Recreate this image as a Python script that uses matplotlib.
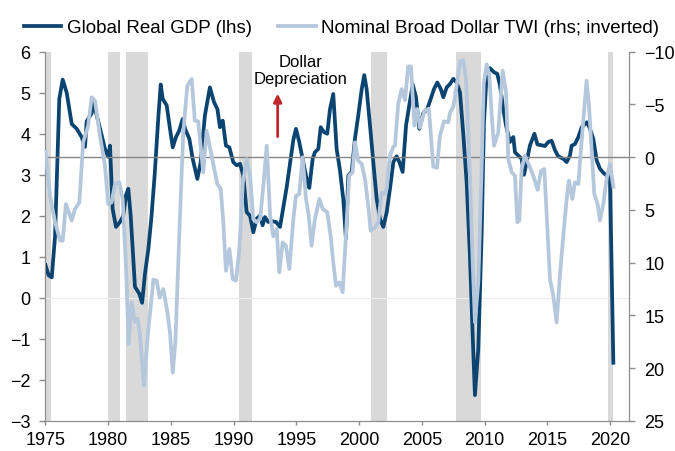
import matplotlib
matplotlib.use("Agg")
import matplotlib.pyplot as plt

plt.rcParams["font.family"] = ["Liberation Sans", "DejaVu Sans"]

# --- Global real GDP growth (lhs, %) ---
gdp_year = [1975.0, 1975.25, 1975.5, 1975.76, 1976.1, 1976.37, 1976.69, 1977.09, 1977.49, 1977.88,
            1978.15, 1978.28, 1978.68, 1978.81, 1979.08, 1979.48, 1979.74, 1980.0, 1980.14, 1980.35,
            1980.62, 1980.94, 1981.2, 1981.41, 1981.6, 1981.79, 1982.13, 1982.48, 1982.7, 1982.93,
            1983.2, 1983.45, 1983.7, 1984.0, 1984.18, 1984.34, 1984.66, 1984.92, 1985.14, 1985.4,
            1985.66, 1985.93, 1986.12, 1986.46, 1986.73, 1987.1, 1987.37, 1987.7, 1988.1, 1988.43,
            1988.7, 1988.9, 1989.12, 1989.38, 1989.65, 1989.96, 1990.24, 1990.5, 1990.76, 1991.03,
            1991.3, 1991.56, 1991.83, 1992.1, 1992.3, 1992.49, 1992.75, 1993.0, 1993.37, 1993.69,
            1993.95, 1994.22, 1994.48, 1994.75, 1994.96, 1995.22, 1995.54, 1995.81, 1996.02, 1996.29,
            1996.47, 1996.74, 1996.93, 1997.19, 1997.45, 1997.67, 1997.93, 1998.2, 1998.47, 1998.73,
            1998.94, 1999.13, 1999.4, 1999.66, 1999.92, 2000.2, 2000.4, 2000.59, 2000.86, 2001.12,
            2001.39, 2001.65, 2001.92, 2002.19, 2002.45, 2002.72, 2002.98, 2003.2, 2003.46, 2003.73,
            2003.99, 2004.26, 2004.52, 2004.79, 2005.1, 2005.42, 2005.7, 2005.96, 2006.22, 2006.5,
            2006.7, 2006.97, 2007.23, 2007.5, 2007.76, 2008.03, 2008.3, 2008.56, 2008.82, 2009.04,
            2009.22, 2009.49, 2009.76, 2009.94, 2010.15, 2010.42, 2010.74, 2011.0, 2011.22, 2011.48,
            2011.7, 2012.01, 2012.28, 2012.41, 2012.68, 2012.94, 2013.13, 2013.34, 2013.6, 2013.96,
            2014.2, 2014.54, 2014.8, 2015.07, 2015.33, 2015.6, 2015.86, 2016.26, 2016.53, 2016.79,
            2016.93, 2017.19, 2017.46, 2017.73, 2017.99, 2018.15, 2018.39, 2018.65, 2018.92, 2019.18,
            2019.45, 2019.72, 2019.98, 2020.25]
gdp_val = [0.8, 0.55, 0.5, 1.5, 4.85, 5.32, 5.0, 4.24, 4.12, 3.92,
           3.68, 4.3, 4.5, 4.75, 4.45, 3.96, 3.63, 3.44, 3.71, 2.17,
           1.73, 1.85, 2.0, 2.5, 2.66, 2.0, 0.27, 0.1, -0.12, 0.6,
           1.2, 2.0, 3.0, 4.44, 5.2, 4.85, 4.69, 4.12, 3.67, 3.92,
           4.08, 4.36, 4.12, 3.88, 3.39, 2.9, 3.31, 4.44, 5.13, 4.77,
           4.6, 4.16, 4.32, 3.71, 3.67, 3.31, 3.23, 3.27, 2.98, 2.09,
           2.0, 1.6, 1.93, 2.01, 1.77, 1.97, 1.85, 1.87, 1.85, 1.73,
           2.2, 2.7, 3.27, 3.85, 4.12, 3.8, 3.31, 2.9, 2.68, 3.39,
           3.55, 3.63, 4.16, 4.04, 4.0, 4.6, 4.97, 3.63, 3.1, 2.4,
           1.45, 2.98, 3.07, 3.88, 4.44, 5.09, 5.43, 5.09, 4.2, 3.31,
           2.42, 1.93, 1.73, 2.09, 2.66, 3.31, 3.45, 3.31, 3.07, 4.2,
           4.7, 5.2, 4.9, 4.12, 4.5, 4.6, 4.85, 5.09, 5.25, 5.09,
           4.89, 5.13, 5.21, 5.34, 5.25, 5.01, 3.96, 2.82, 1.04, -0.91,
           -2.37, -1.23, 1.61, 4.28, 5.42, 5.6, 5.5, 5.46, 5.17, 4.6,
           4.2, 3.8, 3.92, 3.55, 3.47, 3.39, 3.0, 3.31, 3.71, 4.0,
           3.74, 3.72, 3.7, 3.8, 3.83, 3.6, 3.45, 3.39, 3.31, 3.47,
           3.71, 3.75, 3.92, 4.16, 4.24, 4.28, 4.12, 3.88, 3.35, 3.15,
           3.05, 2.98, 2.95, -1.58]

# --- Nominal broad dollar TWI, yoy % (rhs, inverted) ---
twi_year = [1975.0, 1975.36, 1975.76, 1976.16, 1976.37, 1976.63, 1977.09, 1977.35, 1977.7, 1978.0,
            1978.4, 1978.68, 1978.94, 1979.34, 1979.74, 1980.0, 1980.27, 1980.54, 1980.88, 1981.15,
            1981.41, 1981.63, 1981.87, 1982.13, 1982.35, 1982.53, 1982.85, 1983.15, 1983.6, 1983.86,
            1984.1, 1984.39, 1984.7, 1984.92, 1985.14, 1985.35, 1985.72, 1985.98, 1986.3, 1986.65,
            1986.9, 1987.17, 1987.57, 1987.84, 1988.24, 1988.69, 1988.96, 1989.17, 1989.38, 1989.65,
            1989.92, 1990.18, 1990.45, 1990.72, 1991.03, 1991.3, 1991.56, 1991.83, 1992.1, 1992.36,
            1992.63, 1992.9, 1993.15, 1993.42, 1993.63, 1993.9, 1994.16, 1994.43, 1994.75, 1994.96,
            1995.22, 1995.49, 1995.76, 1995.97, 1996.2, 1996.47, 1996.82, 1997.09, 1997.45, 1997.72,
            1997.93, 1998.15, 1998.41, 1998.68, 1998.94, 1999.2, 1999.47, 1999.66, 1999.92, 2000.2,
            2000.46, 2000.72, 2000.91, 2001.25, 2001.52, 2001.79, 2002.05, 2002.19, 2002.45, 2002.72,
            2002.85, 2003.1, 2003.38, 2003.65, 2003.9, 2004.12, 2004.4, 2004.62, 2004.84, 2005.2,
            2005.55, 2005.9, 2006.2, 2006.43, 2006.75, 2007.1, 2007.23, 2007.5, 2007.8, 2008.05,
            2008.28, 2008.5, 2008.6, 2008.8, 2009.04, 2009.22, 2009.49, 2009.76, 2009.92, 2010.16,
            2010.37, 2010.56, 2010.74, 2011.08, 2011.43, 2011.7, 2011.88, 2012.15, 2012.41, 2012.6,
            2012.76, 2012.94, 2013.2, 2013.55, 2013.87, 2014.22, 2014.48, 2014.75, 2014.94, 2015.2,
            2015.46, 2015.73, 2015.99, 2016.26, 2016.53, 2016.71, 2016.98, 2017.19, 2017.46, 2017.67,
            2017.93, 2018.12, 2018.31, 2018.52, 2018.73, 2019.0, 2019.18, 2019.45, 2019.72, 2019.98,
            2020.25]
twi_val = [-0.5, 3.65, 6.15, 7.9, 7.9, 4.44, 6.0, 4.9, 4.28, -1.41,
           -2.99, -5.68, -5.36, -2.04, 0.8, 4.44, 4.28, 2.54, 2.38, 3.96,
           10.3, 17.7, 13.75, 15.6, 15.3, 16.9, 21.66, 16.9, 11.6, 11.7,
           13.3, 12.5, 14.6, 16.6, 20.4, 17.5, 5.5, -2.36, -6.78, -7.41,
           -3.46, -3.4, 1.43, -2.5, -0.14, 2.54, 3.0, 6.17, 10.76, 8.7,
           11.55, 11.7, 8.7, 2.5, 0.17, 1.75, 5.86, 6.17, 5.86, 2.7,
           -1.09, 5.54, 7.5, 6.8, 10.9, 8.07, 8.4, 10.6, 5.86, 3.65,
           3.5, 0.0, 3.96, 5.5, 8.4, 5.86, 3.96, 4.9, 5.22, 7.44,
           9.96, 12.18, 11.86, 12.8, 7.44, 1.75, 1.43, -1.41, 0.33, 0.64,
           2.07, 4.6, 6.97, 6.65, 6.17, 3.33, 3.5, 3.0, -0.14, -1.0,
           -1.1, -5.0, -6.46, -5.4, -8.6, -8.6, -3.0, -4.57, -2.8, -4.4,
           -4.6, 0.9, 1.0, -2.0, -3.4, -3.3, -4.2, -4.8, -7.1, -9.1,
           -9.2, -7.5, -5.0, 1.0, 9.96, 15.65, 11.86, 0.8, -7.0, -8.8,
           -7.7, -3.93, -1.09, -2.36, -8.2, -6.15, 0.17, 1.43, 1.75, 6.17,
           6.0, 1.12, -0.14, 0.8, 1.75, 3.1, 1.3, 1.12, 5.54, 11.55,
           13.12, 15.65, 11.23, 7.44, 3.96, 2.22, 3.96, 2.38, 2.54, -0.78,
           -4.57, -7.25, -4.88, -0.78, 3.49, 4.44, 6.0, 4.44, 2.0, 0.64,
           2.8]

# recession bars (start, end)
rec_start = [1975.0, 1980.0, 1981.45, 1990.45, 2000.95, 2007.75, 2019.8]
rec_end = [1975.4, 1980.9, 1983.15, 1991.42, 2002.2, 2009.72, 2020.25]

dark = "#0b4470"
light = "#b4c7dc"
grey = "#8c8c8c"

fig = plt.figure(figsize=(6.75, 4.52), dpi=100)
ax = fig.add_axes([0.0674, 0.0664, 0.8645, 0.817])
ax2 = ax.twinx()

for s, e in zip(rec_start, rec_end):
    ax.axvspan(s, e, color="#d9d9d9", lw=0, zorder=0)
ax.axhline(0, color="#ececec", lw=0.8, zorder=0.5)

l1, = ax.plot(gdp_year, gdp_val, color=dark, lw=2.7, zorder=3,
              label="Global Real GDP (lhs)")
ax2.axhline(0, color="#858585", lw=1.0, zorder=1)
l2, = ax2.plot(twi_year, twi_val, color=light, lw=2.7, zorder=3,
               label="Nominal Broad Dollar TWI (rhs; inverted)")

ax.set_xlim(1975, 2021.5)
ax.set_ylim(-3, 6)
ax2.set_ylim(25, -10)
ax.set_xticks(range(1975, 2021, 5))
ax.set_yticks(range(-3, 7))
ax2.set_yticks(range(-10, 26, 5))

for a in (ax, ax2):
    a.spines["top"].set_visible(False)
    for sp in ("left", "right", "bottom"):
        a.spines[sp].set_color(grey)
    a.tick_params(colors=grey, labelcolor="black", labelsize=13, length=4, width=1)
ax.tick_params(axis="y", pad=7)
ax.tick_params(axis="x", pad=4, length=3)
ax2.tick_params(axis="y", pad=7)

# dollar depreciation note
ax.text(1995.3, 5.55, "Dollar\nDepreciation", ha="center", va="center",
        fontsize=12, linespacing=1.2, zorder=5)
ax.annotate("", xy=(1993.5, 4.98), xytext=(1993.5, 3.93),
            arrowprops=dict(arrowstyle="-|>", color="#c0282d", lw=2,
                            mutation_scale=12, shrinkA=0, shrinkB=0), zorder=5)

fig.legend([l1, l2], [l1.get_label(), l2.get_label()], loc="center",
           bbox_to_anchor=(0.506, 0.936), ncol=2, frameon=False, fontsize=13.5,
           handlelength=2.0, handletextpad=0.3, columnspacing=1.4)

fig.savefig("out.png", dpi=100)
